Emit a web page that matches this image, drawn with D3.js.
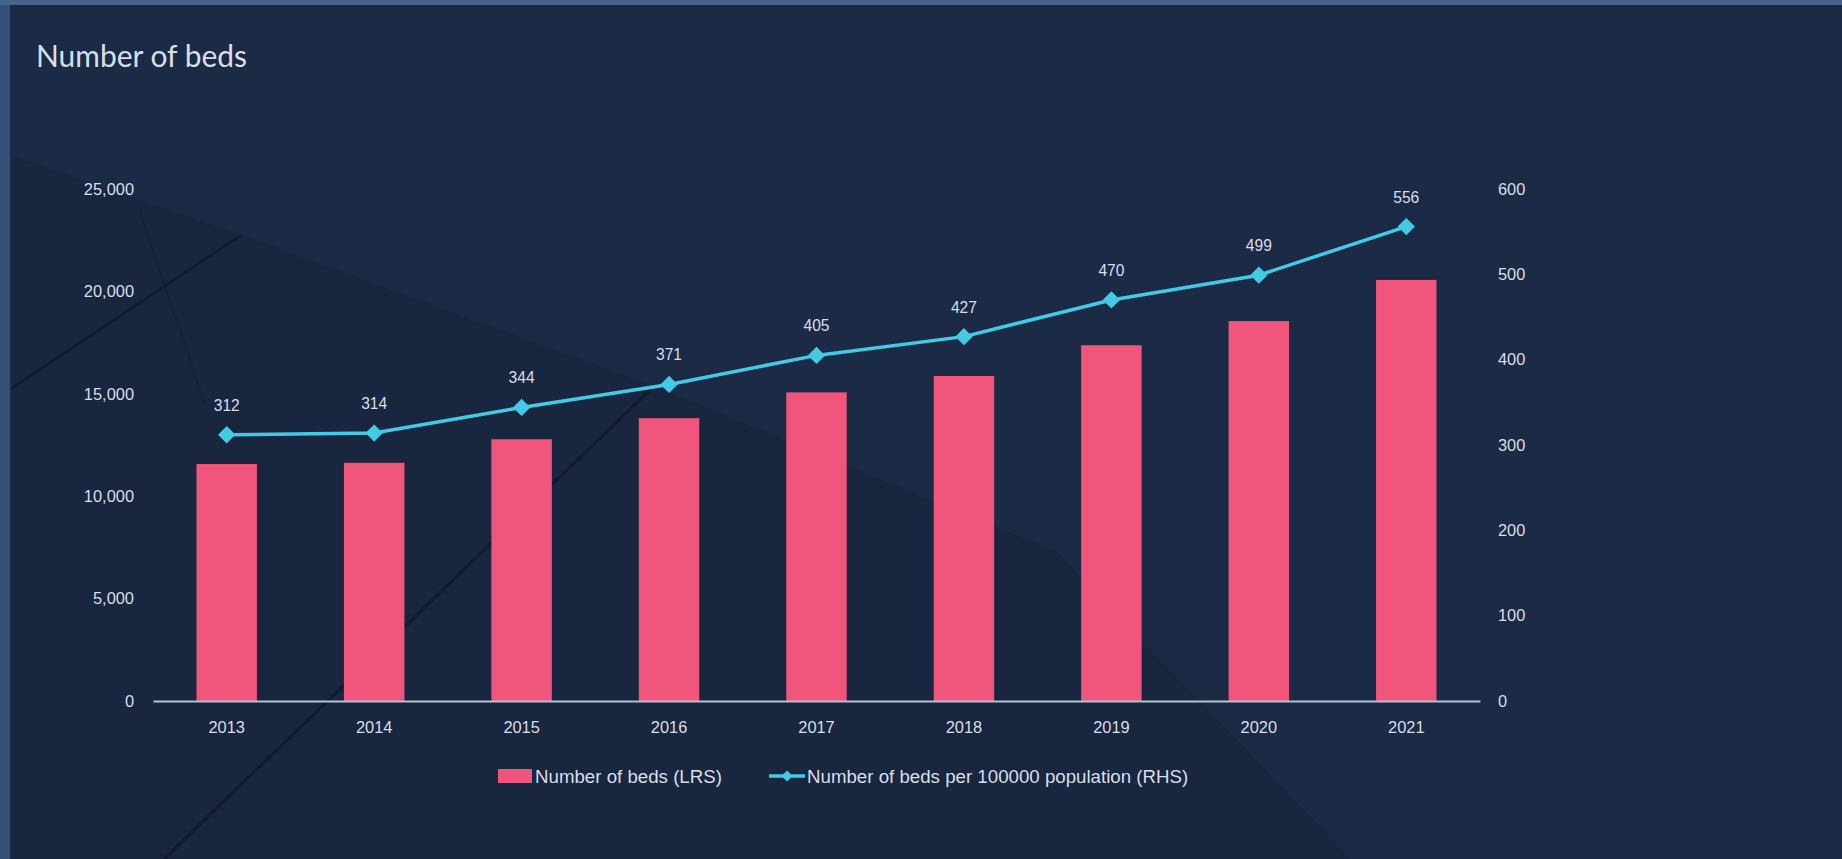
<!DOCTYPE html>
<html><head><meta charset="utf-8">
<script src="https://cdn.jsdelivr.net/npm/d3@7"></script>
<style>html,body{margin:0;padding:0;background:#1b2a45;overflow:hidden}</style>
</head><body>
<svg id="chart" width="1842" height="859"></svg>
<script>
const years = ["2013","2014","2015","2016","2017","2018","2019","2020","2021"];
const beds = [11570, 11630, 12780, 13810, 15070, 15870, 17370, 18550, 20560];
const bedsPer100k = [312, 314, 344, 371, 405, 427, 470, 499, 556];
const leftTicks = [0, 5000, 10000, 15000, 20000, 25000];
const rightTicks = [0, 100, 200, 300, 400, 500, 600];
const titleText = "Number of beds";
const legendLabels = ["Number of beds (LRS)", "Number of beds per 100000 population (RHS)"];

const W = 1842, H = 859;
const BG = "#1b2a45", PINK = "#f0567b", CYAN = "#43cbe6", TXT = "#d8dfe9", AXIS = "#b4c1d3";

function hasFont(name){
  const c = document.createElement("canvas").getContext("2d");
  const s = "Number of beds 100000";
  c.font = "40px monospace"; const a = c.measureText(s).width;
  c.font = "40px '" + name + "', monospace"; const b = c.measureText(s).width;
  return a !== b;
}
let NARROW = "'Liberation Sans Narrow', 'Arial Narrow', sans-serif";
let narrowScale = 1;
if (!hasFont("Liberation Sans Narrow")) { NARROW = "'Liberation Sans', Arial, sans-serif"; narrowScale = 0.82; }
const TITLEF = "Lato, 'Open Sans', sans-serif";

const svg = d3.select("#chart");
svg.append("rect").attr("width", W).attr("height", H).attr("fill", BG);

// decorative background shapes
const deco = svg.append("g");
deco.append("path")
  .attr("d", "M12,156 L241,235 L658,388 L1057,552 L1351,859 L12,859 Z")
  .attr("fill", "#0e1829").attr("opacity", 0.2);
deco.append("path").attr("d", "M164,859 L652,388").attr("stroke", "#0f1828").attr("stroke-width", 3).attr("opacity", 0.7);
deco.append("path").attr("d", "M241,235 L12,388").attr("stroke", "#0f1828").attr("stroke-width", 3).attr("opacity", 0.6);
deco.append("path").attr("d", "M140,212 L205,405").attr("stroke", "#111b2d").attr("stroke-width", 2).attr("opacity", 0.4);
svg.append("rect").attr("x", 0).attr("y", 0).attr("width", 10).attr("height", H).attr("fill", "#35517a");
svg.append("rect").attr("x", 0).attr("y", 0).attr("width", W).attr("height", 5).attr("fill", "#46638b");

// title
const title = svg.append("text").attr("x", 36).attr("y", 67)
  .attr("fill", TXT).attr("font-family", TITLEF).attr("font-size", 28).text(titleText);
{ const w = title.node().getComputedTextLength(); title.attr("font-size", 28 * 211 / w); }

// scales
const x0 = 153, x1 = 1480, yBase = 701, yTop = 189;
const x = d3.scaleBand().domain(years).range([x0, x1]).paddingInner(0.59).paddingOuter(0.295);
const yL = d3.scaleLinear().domain([0, 25000]).range([yBase, yTop]);
const yR = d3.scaleLinear().domain([0, 600]).range([yBase, yTop]);

const tickFS = 20 * narrowScale;

const gL = svg.append("g").attr("transform", `translate(${x0},0)`)
  .call(d3.axisLeft(yL).tickValues(leftTicks).tickFormat(d3.format(",")).tickSize(0).tickPadding(19));
gL.select(".domain").remove();
gL.selectAll("text").attr("fill", TXT).attr("font-family", NARROW).attr("font-size", tickFS);

const gR = svg.append("g").attr("transform", `translate(${x1},0)`)
  .call(d3.axisRight(yR).tickValues(rightTicks).tickSize(0).tickPadding(18));
gR.select(".domain").remove();
gR.selectAll("text").attr("fill", TXT).attr("font-family", NARROW).attr("font-size", tickFS);

svg.append("g").selectAll("rect").data(years).join("rect")
  .attr("x", d => x(d)).attr("width", x.bandwidth())
  .attr("y", (d, i) => yL(beds[i])).attr("height", (d, i) => yBase - yL(beds[i]))
  .attr("fill", PINK);

const gB = svg.append("g").attr("transform", `translate(0,${yBase})`)
  .call(d3.axisBottom(x).tickSize(0).tickPadding(20));
gB.select(".domain").attr("stroke", AXIS).attr("stroke-width", 2);
gB.selectAll("text").attr("fill", TXT).attr("font-family", NARROW).attr("font-size", tickFS);

const cx = d => x(d) + x.bandwidth() / 2;
const line = d3.line().x((d, i) => cx(years[i])).y(d => yR(d));
svg.append("path").datum(bedsPer100k).attr("d", line)
  .attr("fill", "none").attr("stroke", CYAN).attr("stroke-width", 3.5);
const diamond = d3.symbol(d3.symbolSquare, 150);
svg.append("g").selectAll("path").data(bedsPer100k).join("path")
  .attr("d", diamond)
  .attr("transform", (d, i) => `translate(${cx(years[i])},${yR(d)}) rotate(45)`)
  .attr("fill", CYAN);
svg.append("g").selectAll("text").data(bedsPer100k).join("text")
  .attr("x", (d, i) => cx(years[i])).attr("y", d => yR(d) - 24)
  .attr("text-anchor", "middle").attr("fill", TXT)
  .attr("font-family", NARROW).attr("font-size", 19 * narrowScale)
  .text(d => d);

const lg = svg.append("g");
const legFS = 22.8 * narrowScale;
lg.append("rect").attr("x", 498).attr("y", 769).attr("width", 34).attr("height", 14).attr("fill", PINK);
lg.append("text").attr("x", 535).attr("y", 783).attr("fill", TXT)
  .attr("font-family", NARROW).attr("font-size", legFS).text(legendLabels[0]);
lg.append("line").attr("x1", 769).attr("x2", 805).attr("y1", 776).attr("y2", 776)
  .attr("stroke", CYAN).attr("stroke-width", 3.5);
lg.append("path").attr("d", d3.symbol(d3.symbolSquare, 60))
  .attr("transform", "translate(787,776) rotate(45)").attr("fill", CYAN);
lg.append("text").attr("x", 807).attr("y", 783).attr("fill", TXT)
  .attr("font-family", NARROW).attr("font-size", legFS).text(legendLabels[1]);
</script>
</body></html>
